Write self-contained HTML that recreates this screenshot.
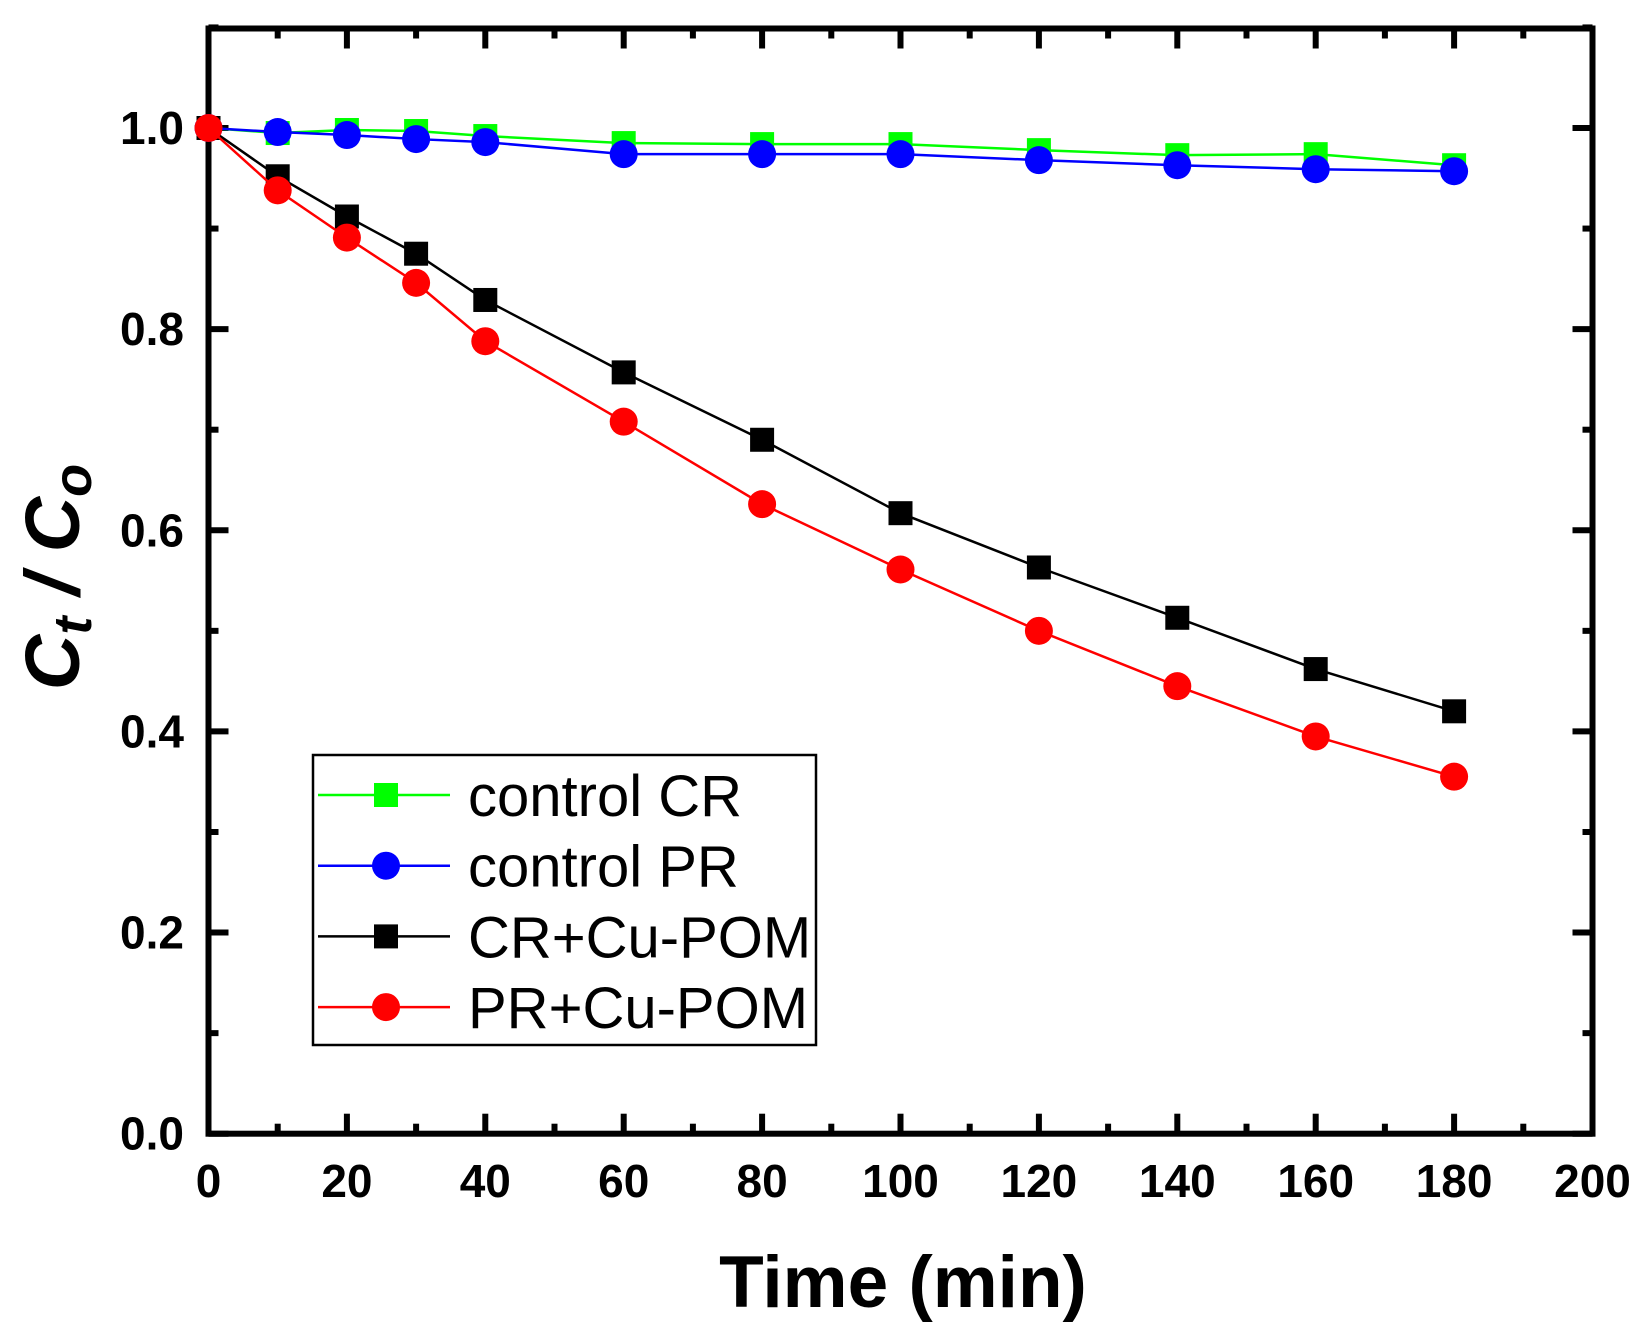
<!DOCTYPE html>
<html><head><meta charset="utf-8"><style>
html,body{margin:0;padding:0;background:#fff;}
svg{display:block;}
text{font-family:"Liberation Sans",Arial,sans-serif;}
</style></head><body>
<svg id="s" width="1650" height="1325" viewBox="0 0 1650 1325" xmlns="http://www.w3.org/2000/svg">
<rect width="1650" height="1325" fill="#fff"/>
<g id="g"></g>
</svg>
<script>
const L=208.5,R=1592.5,T=28.5,B=1133.7;
const X=v=>L+(R-L)*v/200, Y=v=>B-(B-128)*v;
let h='';
for(let v=0;v<=200;v+=10){const x=X(v),len=(v%20==0)?20:10;
 h+=`<line x1="${x}" y1="${B}" x2="${x}" y2="${B-len}" stroke="#000" stroke-width="6"/>`;
 h+=`<line x1="${x}" y1="${T}" x2="${x}" y2="${T+len}" stroke="#000" stroke-width="6"/>`;
 if(v%20==0) h+=`<text x="${x}" y="1197" font-size="46" font-weight="bold" text-anchor="middle">${v}</text>`;}
for(let i=0;i<=11;i++){const v=i/10,y=Y(v),len=(i%2==0)?20:10;
 h+=`<line x1="${L}" y1="${y}" x2="${L+len}" y2="${y}" stroke="#000" stroke-width="6"/>`;
 h+=`<line x1="${R}" y1="${y}" x2="${R-len}" y2="${y}" stroke="#000" stroke-width="6"/>`;
 if(i%2==0) h+=`<text x="184" y="${y+16}" font-size="46" font-weight="bold" text-anchor="end">${v.toFixed(1)}</text>`;}
h+=`<rect x="${L}" y="${T}" width="${R-L}" height="${B-T}" fill="none" stroke="#000" stroke-width="6"/>`;
const xs=[0,10,20,30,40,60,80,100,120,140,160,180];
const S=[
 {c:'#00ff00',m:'s',d:[1,0.995,0.998,0.997,0.992,0.985,0.984,0.984,0.978,0.973,0.974,0.963]},
 {c:'#0000ff',m:'c',d:[1,0.996,0.993,0.989,0.986,0.974,0.974,0.974,0.968,0.963,0.959,0.957]},
 {c:'#000000',m:'s',d:[1,0.952,0.912,0.875,0.829,0.757,0.690,0.617,0.563,0.513,0.462,0.420]},
 {c:'#ff0000',m:'c',d:[1,0.938,0.891,0.846,0.788,0.708,0.626,0.561,0.500,0.445,0.395,0.355]}];
const mk=(m,x,y,c)=>m=='s'?`<rect x="${x-12}" y="${y-12}" width="24" height="24" fill="${c}"/>`:`<circle cx="${x}" cy="${y}" r="14" fill="${c}"/>`;
S.forEach(s=>{h+=`<polyline fill="none" stroke="${s.c}" stroke-width="2.5" points="${xs.map((v,i)=>X(v)+','+Y(s.d[i])).join(' ')}"/>`;
 xs.forEach((v,i)=>h+=mk(s.m,X(v),Y(s.d[i]),s.c));});
h+=`<rect x="313" y="755" width="503" height="290" fill="#fff" stroke="#000" stroke-width="2.5"/>`;
const names=['control CR','control PR','CR+Cu-POM','PR+Cu-POM'];
S.forEach((s,i)=>{const y=795+i*70.7;
 h+=`<line x1="318" y1="${y}" x2="450" y2="${y}" stroke="${s.c}" stroke-width="2.5"/>`+mk(s.m,386,y,s.c);
 h+=`<text x="468" y="${y+21}" font-size="58">${names[i]}</text>`;});
h+=`<text x="903" y="1307" font-size="73" font-weight="bold" text-anchor="middle">Time (min)</text>`;
h+=`<text transform="translate(79,577) rotate(-90)" font-size="77" font-weight="bold" font-style="italic" text-anchor="middle">C<tspan font-size="54" dy="12">t</tspan><tspan dy="-12"> / C</tspan><tspan font-size="54" dy="12">o</tspan></text>`;
document.getElementById('g').innerHTML=h;
</script>
</body></html>
